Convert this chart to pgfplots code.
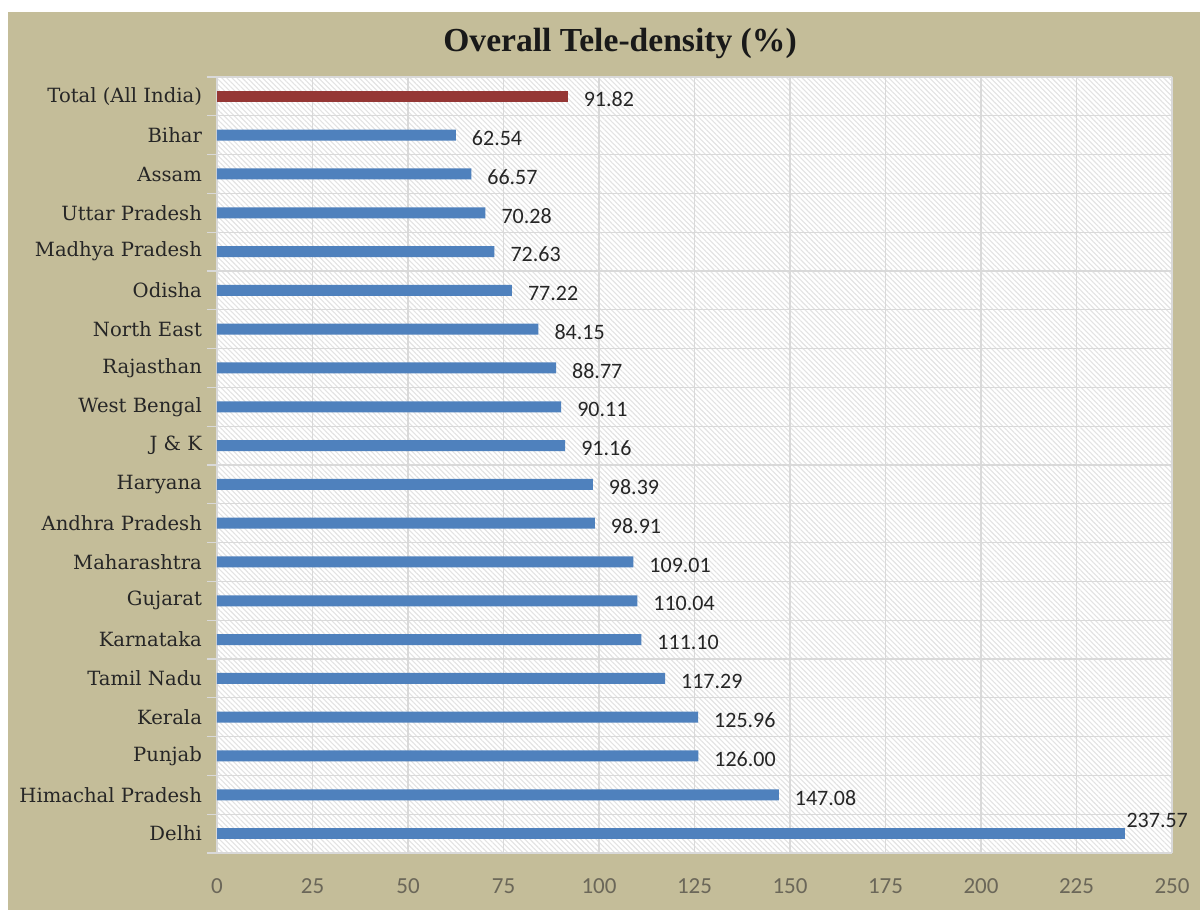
\documentclass[border=0pt]{standalone}
\usepackage{fontspec}
\setmainfont{Carlito}
\newfontfamily\titlefont{Liberation Serif}
\newfontfamily\labfont{DejaVu Serif}
\usepackage{pgfplots}
\pgfplotsset{compat=1.18}
\usetikzlibrary{patterns.meta}
\definecolor{tanbg}{HTML}{C4BD99}
\definecolor{barblue}{HTML}{4F81BD}
\definecolor{barred}{HTML}{953735}
\definecolor{gridc}{HTML}{D9D9D9}
\definecolor{tickc}{HTML}{6B6759}
\begin{document}
\begin{tikzpicture}[x=1pt,y=1pt]
\fill[white] (-108.5,-28.5) rectangle (491.5,426.5);
\fill[tanbg] (-104.5,-28.5) rectangle (491.5,420.5);
\begin{axis}[
  at={(0,0)}, anchor=south west,
  scale only axis, width=477.5pt, height=388pt,
  xbar, bar width=5.5pt, bar shift=0pt,
  xmin=0, xmax=250, ymin=-0.5, ymax=19.5,
  xtick={0,25,...,250},
  ytick={0,...,19},
  yticklabels={Delhi, Himachal Pradesh, Punjab, Kerala, Tamil Nadu, Karnataka, Gujarat, Maharashtra, Andhra Pradesh, Haryana, J \& K, West Bengal, Rajasthan, North East, Odisha, Madhya Pradesh, Uttar Pradesh, Assam, Bihar, Total (All India)},
  minor ytick={-0.5,0.5,...,19.5},
  xmajorgrids=true, yminorgrids=true, ymajorgrids=false,
  major grid style={gridc, line width=0.6pt},
  minor grid style={gridc, line width=0.6pt},
  tick align=outside, major tick length=0pt, minor tick length=5pt,
  minor tick style={gridc, line width=0.6pt},
  ytick pos=left, xtick pos=bottom,
  xtick style={draw=none},
  axis line style={draw=none},
  axis background/.style={preaction={fill=white}, pattern={Lines[angle=-45,distance=1.8pt,line width=0.55pt]}, pattern color=black!11},
  yticklabel style={font=\labfont\fontsize{9.8}{11}\selectfont, text=black!85, xshift=-4pt},
  xticklabel style={font=\fontsize{11.5}{13}\selectfont, text=tickc, yshift=-9.5pt},
  /pgf/number format/assume math mode=true,
  point meta=x,
  nodes near coords={\pgfmathprintnumber[fixed,zerofill,precision=2]{\pgfplotspointmeta}},
  nodes near coords style={font=\fontsize{11}{13}\selectfont, text=black!85, anchor=west, xshift=4.5pt, yshift=-1.5pt},
]
\addplot[fill=barblue, draw=none, bar shift=0pt] coordinates {
(147.08,1) (126.00,2) (125.96,3) (117.29,4) (111.10,5) (110.04,6) (109.01,7)
(98.91,8) (98.39,9) (91.16,10) (90.11,11) (88.77,12) (84.15,13) (77.22,14)
(72.63,15) (70.28,16) (66.57,17) (62.54,18)};
\addplot[fill=barred, draw=none, bar shift=0pt] coordinates {(91.82,19)};
\addplot[fill=barblue, draw=none, bar shift=0pt, nodes near coords style={anchor=west, xshift=-7pt, yshift=8pt}] coordinates {(237.57,0)};
\end{axis}
\node[font=\titlefont\bfseries\fontsize{16.8}{20}\selectfont, text=black!90] at (201.5,405) {Overall Tele-density (\%)};
\end{tikzpicture}
\end{document}
